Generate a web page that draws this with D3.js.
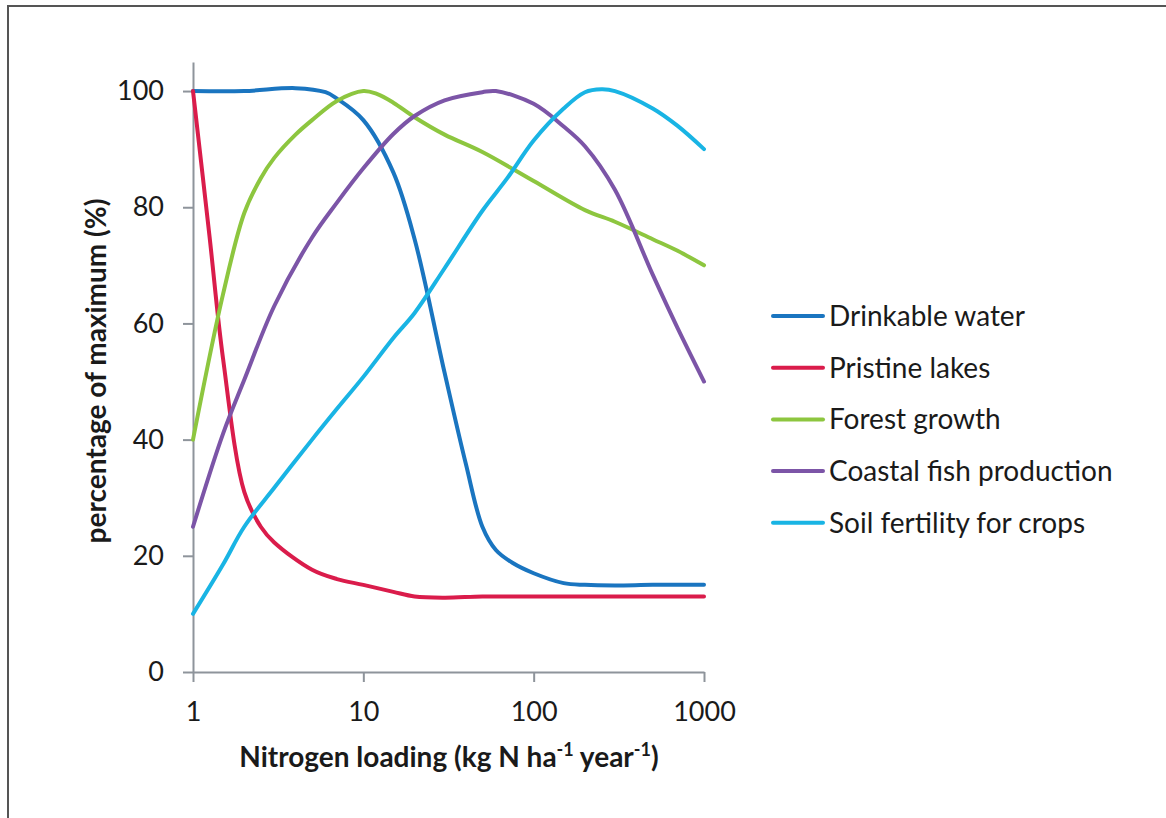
<!DOCTYPE html>
<html>
<head>
<meta charset="utf-8">
<script src="https://cdn.jsdelivr.net/npm/d3@7"></script>
<style>
  body { margin: 0; background: #fff; }
  svg { display: block; font-family: Lato, "Open Sans", sans-serif; }
</style>
</head>
<body>
<div id="wrapper"></div>
<script>
// nitrogen loading values (kg N / ha / year) where the curves were read
const xDrink = [1, 2, 4, 6, 7, 10, 15, 20, 30, 40, 50, 60, 75, 100, 150, 200, 300, 500, 1000];
const drinkable = [100, 100, 100.5, 99.8, 98.7, 95, 86, 74.5, 51.5, 35.8, 25, 21, 18.8, 17, 15.3, 15, 14.9, 15, 15];

const xLakes = [1, 1.25, 1.5, 2, 2.5, 3, 5, 7, 10, 15, 20, 30, 50, 100, 1000];
const lakes = [100, 75, 54, 31, 25, 22.3, 17.6, 16, 15, 13.8, 13, 12.8, 13, 13, 13];

const xForest = [1, 1.5, 2, 2.5, 3, 4, 5, 7, 10, 12, 15, 20, 30, 50, 100, 200, 300, 500, 700, 1000];
const forest = [40, 65, 79, 85, 88.5, 92.5, 95, 98.3, 100, 99.5, 98, 95.5, 92.5, 89.5, 84.5, 79.5, 77.5, 74.5, 72.5, 70];

const xFish = [1, 1.5, 2, 3, 5, 7, 10, 15, 20, 30, 50, 60, 100, 150, 200, 300, 500, 700, 1000];
const fish = [25, 41, 50.3, 63, 74.8, 80.8, 86.7, 92.6, 95.7, 98.4, 99.8, 100, 97.8, 93.9, 90.5, 83, 68.4, 59.2, 50];

const xSoil = [1, 1.5, 2, 3, 5, 7, 10, 15, 20, 30, 50, 70, 100, 150, 200, 250, 300, 500, 700, 1000];
const soil = [10, 18.5, 25, 31.7, 40, 45.3, 50.8, 57.5, 61.8, 69.5, 79.4, 85, 91.5, 97, 99.8, 100.3, 100, 97, 94, 90];

const seriesNames = ['Drinkable water', 'Pristine lakes', 'Forest growth', 'Coastal fish production', 'Soil fertility for crops'];
const seriesColors = ['#1a75c0', '#da1c4b', '#8dc63f', '#7c55a7', '#19b4e4'];

const xTicks = [1, 10, 100, 1000];
const yTicks = [0, 20, 40, 60, 80, 100];

const W = 1166, H = 818;
const svg = d3.select('#wrapper').append('svg').attr('width', W).attr('height', H);

// outer frame (only top and left edges are visible in the crop)
svg.append('path')
   .attr('d', 'M8,' + H + ' L8,6 L' + W + ',6')
   .attr('fill', 'none').attr('stroke', '#555').attr('stroke-width', 2);

const x = d3.scaleLog().domain([1, 1000]).range([193, 704]);
const y = d3.scaleLinear().domain([0, 105]).range([672, 62]);

const axisColor = '#8e949b';
const textColor = '#1a1a1a';

const xAxis = svg.append('g')
   .attr('transform', 'translate(0,672)')
   .call(d3.axisBottom(x).tickValues(xTicks).tickFormat(d3.format('d')).tickSize(10).tickSizeOuter(0).tickPadding(20));
const yAxis = svg.append('g')
   .attr('transform', 'translate(193,0)')
   .call(d3.axisLeft(y).tickValues(yTicks).tickSize(10).tickSizeOuter(0).tickPadding(19));

[xAxis, yAxis].forEach(function (g) {
  g.select('.domain').attr('stroke', axisColor).attr('stroke-width', 2);
  g.selectAll('.tick line').attr('stroke', axisColor).attr('stroke-width', 2);
  g.selectAll('.tick text').attr('fill', textColor).style('font-size', '27px').style('font-family', 'Lato, sans-serif');
});

// x axis title with superscripts
const xt = svg.append('text')
   .attr('x', 449).attr('y', 767)
   .attr('text-anchor', 'middle')
   .style('font-size', '28px').style('font-weight', 'bold').attr('fill', textColor);
xt.append('tspan').text('Nitrogen loading (kg N ha');
xt.append('tspan').text('-1').style('font-size', '18px').attr('dy', -11);
xt.append('tspan').text(' year').attr('dy', 11);
xt.append('tspan').text('-1').style('font-size', '18px').attr('dy', -11);
xt.append('tspan').text(')').attr('dy', 11);

svg.append('text')
   .attr('transform', 'translate(106,371) rotate(-90)')
   .attr('text-anchor', 'middle')
   .style('font-size', '28px').style('font-weight', 'bold').attr('fill', textColor)
   .text('percentage of maximum (%)');

const series = [
  { xs: xDrink, ys: drinkable },
  { xs: xLakes, ys: lakes },
  { xs: xForest, ys: forest },
  { xs: xFish, ys: fish },
  { xs: xSoil, ys: soil }
];

const line = d3.line()
   .x(function (d) { return x(d[0]); })
   .y(function (d) { return y(d[1]); })
   .curve(d3.curveCatmullRom.alpha(0.5));

svg.append('g').selectAll('path')
   .data(series)
   .enter()
   .append('path')
   .attr('d', function (s) { return line(s.xs.map(function (v, i) { return [v, s.ys[i]]; })); })
   .attr('fill', 'none')
   .attr('stroke', function (s, i) { return seriesColors[i]; })
   .attr('stroke-width', 4)
   .attr('stroke-linejoin', 'round')
   .attr('stroke-linecap', 'round');

// legend
const legend = svg.append('g').selectAll('g')
   .data(seriesNames)
   .enter()
   .append('g')
   .attr('transform', function (d, i) { return 'translate(773,' + (316 + i * 51.7) + ')'; });

legend.append('line')
   .attr('x1', 0).attr('x2', 50)
   .attr('stroke', function (d, i) { return seriesColors[i]; })
   .attr('stroke-width', 4)
   .attr('stroke-linecap', 'round');

legend.append('text')
   .attr('x', 56).attr('y', 10)
   .style('font-size', '28px').attr('fill', textColor)
   .text(function (d) { return d; });
</script>
</body>
</html>
